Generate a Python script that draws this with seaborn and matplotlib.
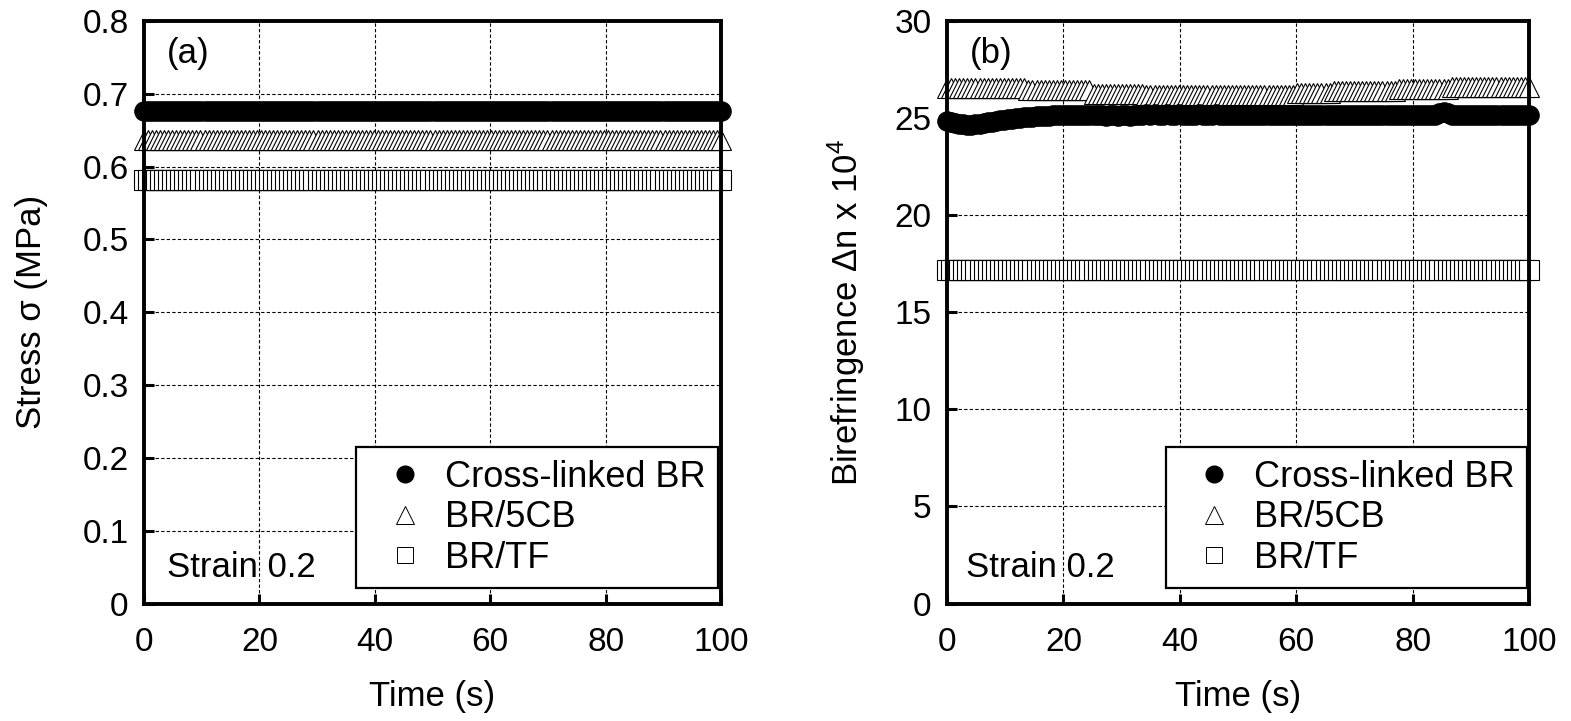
import numpy as np
import matplotlib
matplotlib.use("Agg")
import matplotlib.pyplot as plt
from matplotlib.lines import Line2D
import seaborn as sns

# ---------------- data ----------------
n_points = 144
time_s = np.linspace(0, 100, n_points)

series_names = ["Cross-linked BR", "BR/5CB", "BR/TF"]

stress_xlbr = [
    0.677, 0.677, 0.677, 0.677, 0.677, 0.677, 0.677, 0.677, 0.677, 0.677, 0.677, 0.677,
    0.677, 0.677, 0.677, 0.677, 0.677, 0.677, 0.677, 0.677, 0.677, 0.677, 0.677, 0.677,
    0.677, 0.677, 0.677, 0.677, 0.677, 0.677, 0.677, 0.677, 0.677, 0.677, 0.677, 0.677,
    0.677, 0.677, 0.677, 0.677, 0.677, 0.677, 0.677, 0.677, 0.677, 0.677, 0.677, 0.677,
    0.677, 0.677, 0.677, 0.677, 0.677, 0.677, 0.677, 0.677, 0.677, 0.677, 0.677, 0.677,
    0.677, 0.677, 0.677, 0.677, 0.677, 0.677, 0.677, 0.677, 0.677, 0.677, 0.677, 0.677,
    0.677, 0.677, 0.677, 0.677, 0.677, 0.677, 0.677, 0.677, 0.677, 0.677, 0.677, 0.677,
    0.677, 0.677, 0.677, 0.677, 0.677, 0.677, 0.677, 0.677, 0.677, 0.677, 0.677, 0.677,
    0.677, 0.677, 0.677, 0.677, 0.677, 0.677, 0.677, 0.677, 0.677, 0.677, 0.677, 0.677,
    0.677, 0.677, 0.677, 0.677, 0.677, 0.677, 0.677, 0.677, 0.677, 0.677, 0.677, 0.677,
    0.677, 0.677, 0.677, 0.677, 0.677, 0.677, 0.677, 0.677, 0.677, 0.677, 0.677, 0.677,
    0.677, 0.677, 0.677, 0.677, 0.677, 0.677, 0.677, 0.677, 0.677, 0.677, 0.677, 0.677,
]
stress_5cb = [
    0.637, 0.637, 0.637, 0.637, 0.637, 0.637, 0.637, 0.637, 0.637, 0.637, 0.637, 0.637,
    0.637, 0.637, 0.637, 0.637, 0.637, 0.637, 0.637, 0.637, 0.637, 0.637, 0.637, 0.637,
    0.637, 0.637, 0.637, 0.637, 0.637, 0.637, 0.637, 0.637, 0.637, 0.637, 0.637, 0.637,
    0.637, 0.637, 0.637, 0.637, 0.637, 0.637, 0.637, 0.637, 0.637, 0.637, 0.637, 0.637,
    0.637, 0.637, 0.637, 0.637, 0.637, 0.637, 0.637, 0.637, 0.637, 0.637, 0.637, 0.637,
    0.637, 0.637, 0.637, 0.637, 0.637, 0.637, 0.637, 0.637, 0.637, 0.637, 0.637, 0.637,
    0.637, 0.637, 0.637, 0.637, 0.637, 0.637, 0.637, 0.637, 0.637, 0.637, 0.637, 0.637,
    0.637, 0.637, 0.637, 0.637, 0.637, 0.637, 0.637, 0.637, 0.637, 0.637, 0.637, 0.637,
    0.637, 0.637, 0.637, 0.637, 0.637, 0.637, 0.637, 0.637, 0.637, 0.637, 0.637, 0.637,
    0.637, 0.637, 0.637, 0.637, 0.637, 0.637, 0.637, 0.637, 0.637, 0.637, 0.637, 0.637,
    0.637, 0.637, 0.637, 0.637, 0.637, 0.637, 0.637, 0.637, 0.637, 0.637, 0.637, 0.637,
    0.637, 0.637, 0.637, 0.637, 0.637, 0.637, 0.637, 0.637, 0.637, 0.637, 0.637, 0.637,
]
stress_tf = [
    0.581, 0.581, 0.581, 0.581, 0.581, 0.581, 0.581, 0.581, 0.581, 0.581, 0.581, 0.581,
    0.581, 0.581, 0.581, 0.581, 0.581, 0.581, 0.581, 0.581, 0.581, 0.581, 0.581, 0.581,
    0.581, 0.581, 0.581, 0.581, 0.581, 0.581, 0.581, 0.581, 0.581, 0.581, 0.581, 0.581,
    0.581, 0.581, 0.581, 0.581, 0.581, 0.581, 0.581, 0.581, 0.581, 0.581, 0.581, 0.581,
    0.581, 0.581, 0.581, 0.581, 0.581, 0.581, 0.581, 0.581, 0.581, 0.581, 0.581, 0.581,
    0.581, 0.581, 0.581, 0.581, 0.581, 0.581, 0.581, 0.581, 0.581, 0.581, 0.581, 0.581,
    0.581, 0.581, 0.581, 0.581, 0.581, 0.581, 0.581, 0.581, 0.581, 0.581, 0.581, 0.581,
    0.581, 0.581, 0.581, 0.581, 0.581, 0.581, 0.581, 0.581, 0.581, 0.581, 0.581, 0.581,
    0.581, 0.581, 0.581, 0.581, 0.581, 0.581, 0.581, 0.581, 0.581, 0.581, 0.581, 0.581,
    0.581, 0.581, 0.581, 0.581, 0.581, 0.581, 0.581, 0.581, 0.581, 0.581, 0.581, 0.581,
    0.581, 0.581, 0.581, 0.581, 0.581, 0.581, 0.581, 0.581, 0.581, 0.581, 0.581, 0.581,
    0.581, 0.581, 0.581, 0.581, 0.581, 0.581, 0.581, 0.581, 0.581, 0.581, 0.581, 0.581,
]

biref_xlbr = [
    24.85, 24.80, 24.75, 24.70, 24.68, 24.66, 24.66, 24.68, 24.70, 24.74, 24.78, 24.82,
    24.85, 24.88, 24.90, 24.93, 24.96, 24.99, 25.02, 25.04, 25.06, 25.08, 25.10, 25.11,
    25.12, 25.13, 25.14, 25.14, 25.15, 25.15, 25.16, 25.16, 25.16, 25.17, 25.17, 25.17,
    25.17, 25.18, 25.18, 25.12, 25.18, 25.18, 25.10, 25.17, 25.18, 25.12, 25.18, 25.18,
    25.18, 25.19, 25.18, 25.20, 25.18, 25.18, 25.19, 25.18, 25.18, 25.19, 25.18, 25.18,
    25.18, 25.18, 25.19, 25.18, 25.18, 25.18, 25.19, 25.18, 25.18, 25.18, 25.18, 25.18,
    25.18, 25.18, 25.18, 25.18, 25.18, 25.18, 25.18, 25.18, 25.18, 25.18, 25.18, 25.18,
    25.17, 25.17, 25.17, 25.17, 25.17, 25.17, 25.17, 25.17, 25.17, 25.17, 25.17, 25.17,
    25.17, 25.17, 25.17, 25.17, 25.17, 25.17, 25.17, 25.17, 25.17, 25.17, 25.17, 25.17,
    25.17, 25.17, 25.17, 25.17, 25.17, 25.17, 25.17, 25.17, 25.17, 25.17, 25.17, 25.17,
    25.17, 25.28, 25.30, 25.24, 25.17, 25.16, 25.16, 25.16, 25.16, 25.16, 25.16, 25.16,
    25.15, 25.15, 25.15, 25.15, 25.15, 25.15, 25.15, 25.15, 25.15, 25.15, 25.15, 25.15,
]
biref_5cb = [
    26.55, 26.55, 26.55, 26.55, 26.55, 26.55, 26.55, 26.55, 26.55, 26.55, 26.55, 26.55,
    26.55, 26.55, 26.55, 26.55, 26.55, 26.55, 26.55, 26.55, 26.46, 26.46, 26.46, 26.46,
    26.46, 26.46, 26.46, 26.46, 26.46, 26.46, 26.46, 26.46, 26.46, 26.46, 26.46, 26.46,
    26.26, 26.26, 26.26, 26.26, 26.26, 26.26, 26.26, 26.26, 26.26, 26.26, 26.26, 26.26,
    26.22, 26.18, 26.18, 26.18, 26.18, 26.18, 26.18, 26.18, 26.18, 26.18, 26.18, 26.18,
    26.18, 26.18, 26.18, 26.18, 26.18, 26.18, 26.18, 26.18, 26.18, 26.18, 26.18, 26.18,
    26.18, 26.18, 26.18, 26.18, 26.18, 26.18, 26.18, 26.18, 26.18, 26.18, 26.18, 26.18,
    26.18, 26.18, 26.27, 26.27, 26.27, 26.27, 26.27, 26.27, 26.27, 26.27, 26.27, 26.38,
    26.38, 26.38, 26.38, 26.38, 26.38, 26.38, 26.38, 26.38, 26.38, 26.38, 26.38, 26.38,
    26.38, 26.38, 26.38, 26.50, 26.50, 26.50, 26.50, 26.50, 26.50, 26.50, 26.50, 26.50,
    26.50, 26.50, 26.50, 26.50, 26.60, 26.60, 26.60, 26.60, 26.60, 26.60, 26.60, 26.60,
    26.60, 26.60, 26.60, 26.60, 26.60, 26.60, 26.60, 26.60, 26.60, 26.60, 26.60, 26.60,
]
biref_tf = [
    17.2, 17.2, 17.2, 17.2, 17.2, 17.2, 17.2, 17.2, 17.2, 17.2, 17.2, 17.2,
    17.2, 17.2, 17.2, 17.2, 17.2, 17.2, 17.2, 17.2, 17.2, 17.2, 17.2, 17.2,
    17.2, 17.2, 17.2, 17.2, 17.2, 17.2, 17.2, 17.2, 17.2, 17.2, 17.2, 17.2,
    17.2, 17.2, 17.2, 17.2, 17.2, 17.2, 17.2, 17.2, 17.2, 17.2, 17.2, 17.2,
    17.2, 17.2, 17.2, 17.2, 17.2, 17.2, 17.2, 17.2, 17.2, 17.2, 17.2, 17.2,
    17.2, 17.2, 17.2, 17.2, 17.2, 17.2, 17.2, 17.2, 17.2, 17.2, 17.2, 17.2,
    17.2, 17.2, 17.2, 17.2, 17.2, 17.2, 17.2, 17.2, 17.2, 17.2, 17.2, 17.2,
    17.2, 17.2, 17.2, 17.2, 17.2, 17.2, 17.2, 17.2, 17.2, 17.2, 17.2, 17.2,
    17.2, 17.2, 17.2, 17.2, 17.2, 17.2, 17.2, 17.2, 17.2, 17.2, 17.2, 17.2,
    17.2, 17.2, 17.2, 17.2, 17.2, 17.2, 17.2, 17.2, 17.2, 17.2, 17.2, 17.2,
    17.2, 17.2, 17.2, 17.2, 17.2, 17.2, 17.2, 17.2, 17.2, 17.2, 17.2, 17.2,
    17.2, 17.2, 17.2, 17.2, 17.2, 17.2, 17.2, 17.2, 17.2, 17.2, 17.2, 17.2,
]

x_ticks = [0, 20, 40, 60, 80, 100]
stress_ticks = [0, 0.1, 0.2, 0.3, 0.4, 0.5, 0.6, 0.7, 0.8]
stress_ticklabels = ["0", "0.1", "0.2", "0.3", "0.4", "0.5", "0.6", "0.7", "0.8"]
biref_ticks = [0, 5, 10, 15, 20, 25, 30]

# ---------------- style ----------------
sns.set_theme(style="ticks")
plt.rcParams["font.family"] = ["Liberation Sans", "DejaVu Sans"]
plt.rcParams["mathtext.fontset"] = "custom"
plt.rcParams["mathtext.rm"] = "Liberation Sans"
plt.rcParams["mathtext.it"] = "Liberation Sans:italic"
plt.rcParams["text.color"] = "black"
plt.rcParams["axes.labelcolor"] = "black"
FS_TICK = 24
FS = 25
FS_LEG = 26

fig = plt.figure(figsize=(15.71, 7.21), dpi=100)
W, H = 1571, 721
ax1 = fig.add_axes([144 / W, 1 - 603.5 / H, (721 - 144) / W, (603.5 - 21) / H])
ax2 = fig.add_axes([947 / W, 1 - 603.5 / H, (1529 - 947) / W, (603.5 - 21) / H])

marker_styles = [
    dict(marker="o", markersize=14, markerfacecolor="black", markeredgecolor="black", markeredgewidth=0.8),
    dict(marker="^", markersize=14, markerfacecolor="white", markeredgecolor="black", markeredgewidth=0.8),
    dict(marker="s", markersize=14, markerfacecolor="white", markeredgecolor="black", markeredgewidth=0.8),
]
zorders = [5, 4, 3]


def draw(ax, series):
    for vals, ms, z in zip(series, marker_styles, zorders):
        sns.lineplot(x=time_s, y=vals, ax=ax, linestyle="", color="black",
                     estimator=None, sort=False, legend=False, zorder=z,
                     clip_on=False, **ms)


draw(ax1, [stress_xlbr, stress_5cb, stress_tf])
draw(ax2, [biref_xlbr, biref_5cb, biref_tf])

legend_handles = [
    Line2D([], [], linestyle="", marker="o", markersize=12, markerfacecolor="black", markeredgecolor="black"),
    Line2D([], [], linestyle="", marker="^", markersize=13, markerfacecolor="white", markeredgecolor="black", markeredgewidth=0.7),
    Line2D([], [], linestyle="", marker="s", markersize=11, markerfacecolor="white", markeredgecolor="black", markeredgewidth=0.7),
]

panels = [
    (ax1, (0, 0.8), stress_ticks, stress_ticklabels, "Stress σ (MPa)", "(a)", 0.040, 0.995, 25),
    (ax2, (0, 30), biref_ticks, [str(v) for v in biref_ticks], r"Birefringence Δn x 10$^{4}$", "(b)", 0.032, 0.997, 20),
]
for ax, ylim, yticks, ylabels, ylabel, tag, strain_x, leg_x, ylpad in panels:
    ax.set_xlim(0, 100)
    ax.set_ylim(*ylim)
    ax.set_xticks(x_ticks)
    ax.set_xticklabels([str(v) for v in x_ticks])
    ax.set_yticks(yticks)
    ax.set_yticklabels(ylabels)
    ax.grid(True, color="black", linestyle=(0, (3, 2)), linewidth=0.8)
    ax.set_axisbelow(True)
    for sp in ax.spines.values():
        sp.set_linewidth(2.8)
        sp.set_color("black")
        sp.set_zorder(10)
    ax.tick_params(axis="both", direction="in", length=7, width=2.2, color="black",
                   labelsize=FS_TICK, labelcolor="black", top=False, right=False)
    ax.tick_params(axis="x", pad=17)
    ax.tick_params(axis="y", pad=11)
    ax.set_xlabel("Time (s)", fontsize=FS, color="black", labelpad=16)
    ax.set_ylabel(ylabel, fontsize=FS, color="black", labelpad=ylpad)
    ax.text(0.04, 0.945, tag, transform=ax.transAxes, fontsize=FS, va="center", ha="left",
            color="black", zorder=12)
    ax.text(strain_x, 0.062, "Strain 0.2", transform=ax.transAxes, fontsize=FS, va="center",
            ha="left", color="black", zorder=12)
    leg = ax.legend(legend_handles, series_names, loc="lower right", bbox_to_anchor=(leg_x, 0.026),
                    borderaxespad=0, fontsize=FS_LEG, frameon=True, fancybox=False,
                    labelspacing=0.15, handletextpad=0.1, handlelength=2.0, borderpad=0.35,
                    labelcolor="black")
    leg.get_frame().set_edgecolor("black")
    leg.get_frame().set_linewidth(1.6)
    leg.get_frame().set_facecolor("white")
    leg.get_frame().set_alpha(1)
    leg.set_zorder(11)

fig.savefig("out.png", dpi=100, facecolor="white")
